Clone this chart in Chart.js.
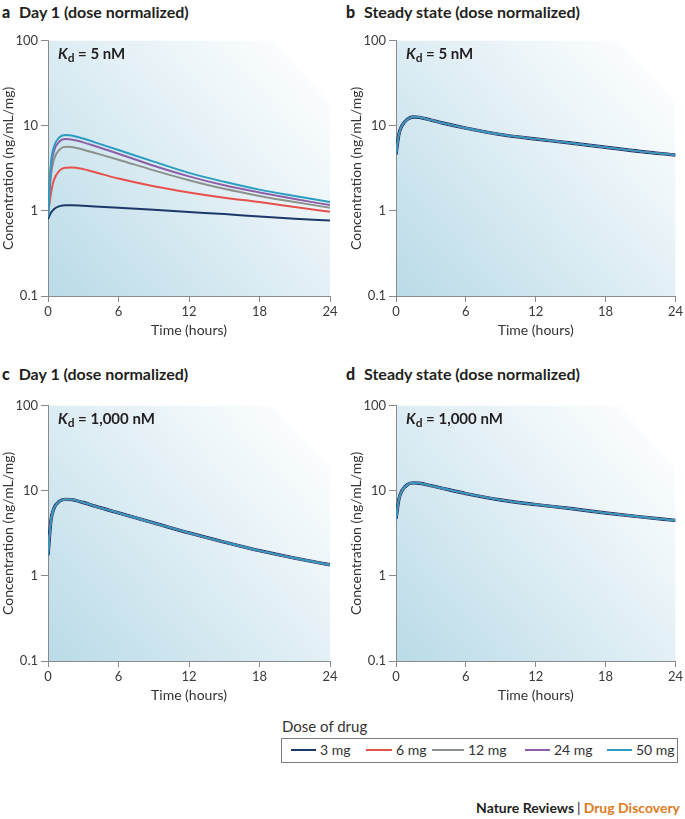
<!DOCTYPE html>
<html>
<head>
<meta charset="utf-8">
<script src="https://cdn.jsdelivr.net/npm/chart.js@4/dist/chart.umd.min.js"></script>
<style>
  body { margin: 0; background: #fff; font-family: Lato, 'Open Sans', sans-serif; color: #231f20; }
  #page { position: relative; width: 685px; height: 819px; overflow: hidden; }
  .panel { position: absolute; }
  .ptitle { position: absolute; font-weight: bold; font-size: 16px; white-space: nowrap; line-height: 18px; }
  .ptitle b { margin-right: 5px; }
  .kd { position: absolute; font-weight: bold; font-size: 15px; white-space: nowrap; line-height: 16px; }
  .kd sub { font-size: 12px; vertical-align: -3px; line-height: 0; }
  #legendTitle { position: absolute; left: 282px; top: 717px; font-size: 15px; color: #333; }
  #legendBox { position: absolute; left: 281px; top: 738px; width: 395px; height: 23px; border: 1px solid #7d7d7d; }
  .entry { position: absolute; top: 2px; font-size: 14px; color: #333; white-space: nowrap; line-height: 18px; }
  .entry i { display: inline-block; height: 2px; vertical-align: middle; margin-right: 4px; position: relative; top: -1px; }
  #footer { position: absolute; right: 5px; top: 799px; font-size: 14px; font-weight: bold; white-space: nowrap; }
  #footer .sep { font-weight: normal; margin: 0 3px; }
  #footer .dd { color: #e07b24; }
</style>
</head>
<body>
<div id="page">
  <div class="ptitle" style="left:2px; top:3px;"><b>a</b> Day 1 (dose normalized)</div>
  <div class="ptitle" style="left:346px; top:3px;"><b>b</b> Steady state (dose normalized)</div>
  <div class="ptitle" style="left:2px; top:365px;"><b>c</b> Day 1 (dose normalized)</div>
  <div class="ptitle" style="left:346px; top:365px;"><b>d</b> Steady state (dose normalized)</div>

  <canvas class="panel" id="chartA" width="345" height="315" style="left:0px; top:30px;"></canvas>
  <canvas class="panel" id="chartB" width="337" height="315" style="left:348px; top:30px;"></canvas>
  <canvas class="panel" id="chartC" width="345" height="315" style="left:0px; top:395px;"></canvas>
  <canvas class="panel" id="chartD" width="337" height="315" style="left:348px; top:395px;"></canvas>

  <div class="kd" style="left:58px; top:45px;"><i>K</i><sub>d</sub> = 5 nM</div>
  <div class="kd" style="left:406px; top:45px;"><i>K</i><sub>d</sub> = 5 nM</div>
  <div class="kd" style="left:58px; top:410px;"><i>K</i><sub>d</sub> = 1,000 nM</div>
  <div class="kd" style="left:406px; top:410px;"><i>K</i><sub>d</sub> = 1,000 nM</div>

  <div id="legendTitle">Dose of drug</div>
  <div id="legendBox"></div>

  <div id="footer">Nature Reviews<span class="sep">|</span><span class="dd">Drug Discovery</span></div>
</div>

<script>
// Time points (hours) and axis ticks
const timeHours = [0, 0.25, 0.5, 1, 1.5, 2, 3, 4, 6, 9, 12, 15, 18, 21, 24];
const xTickValues = [0, 6, 12, 18, 24];
const yTickValues = [0.1, 1, 10, 100];

const doseLabels = ['3 mg', '6 mg', '12 mg', '24 mg', '50 mg'];
const doseColors = ['#1d3768', '#e8504c', '#8b918c', '#8d5fa8', '#2b9dc0'];

// Panel a: day 1, Kd = 5 nM (one curve per dose)
const day1Kd5_3mg  = [0.80, 0.95, 1.05, 1.14, 1.17, 1.17, 1.15, 1.13, 1.09, 1.03, 0.97, 0.92, 0.86, 0.81, 0.77];
const day1Kd5_6mg  = [0.90, 1.60, 2.30, 3.00, 3.22, 3.25, 3.10, 2.85, 2.40, 1.95, 1.65, 1.43, 1.27, 1.11, 0.98];
const day1Kd5_12mg = [0.85, 2.60, 4.00, 5.30, 5.70, 5.65, 5.25, 4.80, 4.00, 3.00, 2.30, 1.82, 1.50, 1.27, 1.09];
const day1Kd5_24mg = [0.85, 3.20, 5.00, 6.60, 7.00, 6.90, 6.40, 5.80, 4.70, 3.40, 2.55, 2.00, 1.65, 1.38, 1.17];
const day1Kd5_50mg = [0.85, 3.60, 5.60, 7.40, 7.80, 7.70, 7.10, 6.40, 5.20, 3.80, 2.80, 2.20, 1.78, 1.50, 1.27];

// Panels b-d: all doses overlap on one curve
const steadyKd5    = [4.60, 8.00, 10.0, 12.0, 12.7, 12.6, 11.7, 10.8, 9.40, 7.90, 7.00, 6.30, 5.60, 5.00, 4.55];
const day1Kd1000   = [1.75, 4.50, 6.20, 7.60, 7.95, 7.90, 7.30, 6.60, 5.50, 4.20, 3.20, 2.50, 1.98, 1.62, 1.35];
const steadyKd1000 = [4.70, 8.00, 10.0, 11.9, 12.4, 12.3, 11.5, 10.7, 9.30, 7.80, 6.90, 6.20, 5.50, 4.95, 4.50];

const FONT = 'Lato';

// Blue wash behind the plot area, fading to white at the top right
const backdrop = {
  id: 'backdrop',
  beforeDraw(chart) {
    const { ctx, chartArea: a } = chart;
    const w = a.right - a.left, h = a.bottom - a.top;
    const g = ctx.createLinearGradient(a.left, a.bottom, a.right, a.top);
    g.addColorStop(0, '#b9dbe8');
    g.addColorStop(0.4, '#d8eaf2');
    g.addColorStop(0.7, '#eef6f9');
    g.addColorStop(0.9, '#fbfdfe');
    g.addColorStop(1, '#ffffff');
    ctx.save();
    ctx.beginPath();
    ctx.moveTo(a.left, a.top);
    ctx.lineTo(a.left + w * 0.8, a.top);
    ctx.lineTo(a.right, a.top + h * 0.24);
    ctx.lineTo(a.right, a.bottom);
    ctx.lineTo(a.left, a.bottom);
    ctx.closePath();
    ctx.fillStyle = g;
    ctx.fill();
    ctx.restore();
  }
};

function makePanel(id, seriesList, overlapped, rightPad) {
  const datasets = seriesList.map((vals, i) => ({
    label: doseLabels[i],
    data: timeHours.map((t, k) => ({ x: t, y: vals[k] })),
    borderColor: doseColors[i],
    borderWidth: overlapped ? (i === 0 ? 3.4 : 1.6) : 2,
    order: doseLabels.length - i,   // 50 mg drawn on top
    pointRadius: 0,
    cubicInterpolationMode: 'monotone',
    fill: false
  }));
  const axisColor = '#8a8a8a';
  return new Chart(document.getElementById(id), {
    type: 'line',
    data: { datasets },
    plugins: [backdrop],
    options: {
      responsive: false,
      animation: false,
      layout: { padding: { top: 7, right: rightPad, left: 0, bottom: 0 } },
      plugins: { legend: { display: false }, tooltip: { enabled: false } },
      scales: {
        x: {
          type: 'linear',
          min: 0,
          max: 24,
          afterBuildTicks: s => { s.ticks = xTickValues.map(v => ({ value: v })); },
          afterFit: s => { s.height = 49; },
          grid: { drawOnChartArea: false, tickLength: 6, color: axisColor },
          border: { color: axisColor, width: 1 },
          ticks: { padding: 2, maxRotation: 0, color: '#3a3a3a', font: { family: FONT, size: 13 } },
          title: { display: true, text: 'Time (hours)', color: '#333', font: { family: FONT, size: 14 }, padding: { top: 4, bottom: 6 } }
        },
        y: {
          type: 'logarithmic',
          min: 0.1,
          max: 100,
          afterBuildTicks: s => { s.ticks = yTickValues.map(v => ({ value: v })); },
          afterFit: s => { s.width = 48; },
          grid: { drawOnChartArea: false, tickLength: 7, color: axisColor },
          border: { color: axisColor, width: 1 },
          ticks: { padding: 3, color: '#3a3a3a', font: { family: FONT, size: 13 }, callback: v => String(v) },
          title: { display: true, text: 'Concentration (ng/mL/mg)', color: '#333', font: { family: FONT, size: 14 }, padding: { top: 0, bottom: 0 } }
        }
      }
    }
  });
}

makePanel('chartA', [day1Kd5_3mg, day1Kd5_6mg, day1Kd5_12mg, day1Kd5_24mg, day1Kd5_50mg], false, 15);
makePanel('chartB', doseLabels.map(() => steadyKd5), true, 9);
makePanel('chartC', doseLabels.map(() => day1Kd1000), true, 15);
makePanel('chartD', doseLabels.map(() => steadyKd1000), true, 9);

// Shared legend under the panels
const legendLefts = [9, 84, 150, 243, 325];
const legendLineWidths = [25, 26, 32, 25, 25];
const box = document.getElementById('legendBox');
doseLabels.forEach((lab, i) => {
  const e = document.createElement('div');
  e.className = 'entry';
  e.style.left = legendLefts[i] + 'px';
  e.innerHTML = '<i style="width:' + legendLineWidths[i] + 'px;background:' + doseColors[i] + '"></i>' + lab;
  box.appendChild(e);
});
</script>
</body>
</html>
